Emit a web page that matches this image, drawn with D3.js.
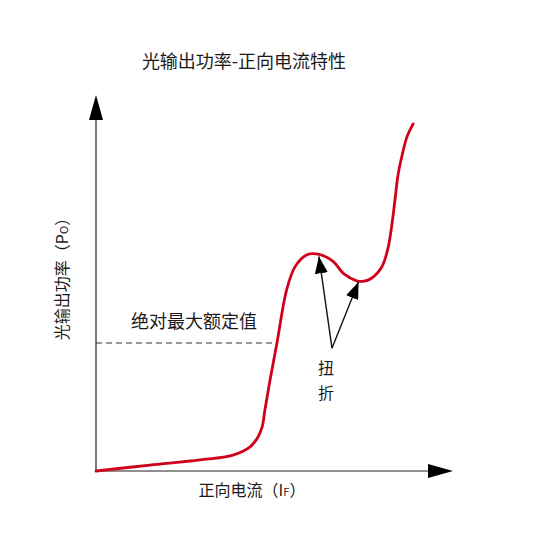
<!DOCTYPE html>
<html>
<head>
<meta charset="utf-8">
<script src="https://cdn.jsdelivr.net/npm/d3@7"></script>
<style>
  html, body { margin: 0; padding: 0; background: #fff; }
  svg { display: block; }
  text { font-family: "Noto Sans CJK SC", "Noto Sans", sans-serif; fill: #1a1a1a; }
</style>
</head>
<body>
<svg id="chart" width="555" height="549"></svg>
<script>
// Forward current (relative units) and light output power (relative units)
const current = [0, 15.7, 30.2, 39.8, 44.8, 47.1, 48.3, 49.1, 50.6, 52.6, 55.4, 57.8, 61.2, 64.6,
                 69.0, 71.9, 75.8, 77.9, 80.1, 83.1, 84.9, 86.0, 86.9, 87.8, 89.0, 90.4, 92.2];
const power   = [0, 1.6, 3.0, 4.3, 6.5, 9.2, 11.9, 16.5, 24.6, 34.6, 48.9, 55.1, 58.4, 58.6,
                 56.6, 53.4, 51.4, 51.3, 52.1, 55.2, 60.3, 66.5, 73.2, 80.0, 85.4, 90.3, 93.8];

// Absolute maximum rating level and where it meets the curve
const maxRatingPower = 34.6;
const maxRatingCurrent = 52.6;

// Kink annotation: label anchor and the two points it marks
const kinkAnchor = [68.6, 33.2];
const kinkPoints = [[64.8, 58.0], [76.3, 51.1]];

const titleText = "光输出功率-正向电流特性";
const xLabelMain = "正向电流（I", xLabelSub = "F", xLabelEnd = "）";
const yLabelMain = "光输出功率（P", yLabelSub = "O", yLabelEnd = "）";
const maxRatingText = "绝对最大额定值";
const kinkText = ["扭", "折"];

const svg = d3.select("#chart");

const x = d3.scaleLinear().domain([0, 100]).range([96, 440]);
const y = d3.scaleLinear().domain([0, 100]).range([471, 101]);

// Arrow markers
const defs = svg.append("defs");
defs.append("marker")
  .attr("id", "axisHead")
  .attr("viewBox", "0 0 25 14")
  .attr("refX", 0).attr("refY", 7)
  .attr("markerWidth", 25).attr("markerHeight", 14)
  .attr("markerUnits", "userSpaceOnUse")
  .attr("orient", "auto")
  .append("path").attr("d", "M0,0 L25,7 L0,14 Z").attr("fill", "#000");
defs.append("marker")
  .attr("id", "noteHead")
  .attr("viewBox", "0 0 17 13")
  .attr("refX", 17).attr("refY", 6.5)
  .attr("markerWidth", 17).attr("markerHeight", 13)
  .attr("markerUnits", "userSpaceOnUse")
  .attr("orient", "auto")
  .append("path").attr("d", "M0,0 L17,6.5 L0,13 Z").attr("fill", "#000");

// Axes with arrowheads
svg.append("line")
  .attr("x1", x(0)).attr("y1", y(0)).attr("x2", x(0)).attr("y2", 120)
  .attr("stroke", "#222").attr("stroke-width", 1.2)
  .attr("marker-end", "url(#axisHead)");
svg.append("line")
  .attr("x1", x(0)).attr("y1", y(0)).attr("x2", 428).attr("y2", y(0))
  .attr("stroke", "#222").attr("stroke-width", 1.2)
  .attr("marker-end", "url(#axisHead)");

// Absolute maximum rating dashed line
svg.append("line")
  .attr("x1", x(0)).attr("x2", x(maxRatingCurrent))
  .attr("y1", y(maxRatingPower)).attr("y2", y(maxRatingPower))
  .attr("stroke", "#333").attr("stroke-width", 1.2)
  .attr("stroke-dasharray", "6,4");

// L-I curve
const pts = current.map((c, i) => [c, power[i]]);
const line = d3.line()
  .x(d => x(d[0])).y(d => y(d[1]))
  .curve(d3.curveCatmullRom.alpha(0.5));
svg.append("path")
  .datum(pts)
  .attr("d", line)
  .attr("fill", "none")
  .attr("stroke", "#d0021b")
  .attr("stroke-width", 2.8)
  .attr("stroke-linecap", "round")
  .attr("stroke-linejoin", "round");

// Kink annotation arrows
kinkPoints.forEach(p => {
  svg.append("line")
    .attr("x1", x(kinkAnchor[0])).attr("y1", y(kinkAnchor[1]))
    .attr("x2", x(p[0])).attr("y2", y(p[1]))
    .attr("stroke", "#111").attr("stroke-width", 1.4)
    .attr("marker-end", "url(#noteHead)");
});

// Texts
svg.append("text")
  .attr("x", 244).attr("y", 68)
  .attr("text-anchor", "middle")
  .attr("font-size", 18)
  .text(titleText);

svg.append("text")
  .attr("x", 194).attr("y", 328)
  .attr("text-anchor", "middle")
  .attr("font-size", 18)
  .text(maxRatingText);

kinkText.forEach((t, i) => {
  svg.append("text")
    .attr("x", 326).attr("y", 374 + i * 25)
    .attr("text-anchor", "middle")
    .attr("font-size", 16)
    .text(t);
});

const xl = svg.append("text")
  .attr("x", 252).attr("y", 496)
  .attr("text-anchor", "middle")
  .attr("font-size", 16);
xl.append("tspan").text(xLabelMain);
xl.append("tspan").attr("font-size", 11).text(xLabelSub);
xl.append("tspan").text(xLabelEnd);

const yl = svg.append("text")
  .attr("transform", "translate(68,275) rotate(-90)")
  .attr("text-anchor", "middle")
  .attr("font-size", 16);
yl.append("tspan").text(yLabelMain);
yl.append("tspan").attr("font-size", 11).text(yLabelSub);
yl.append("tspan").text(yLabelEnd);
</script>
</body>
</html>
